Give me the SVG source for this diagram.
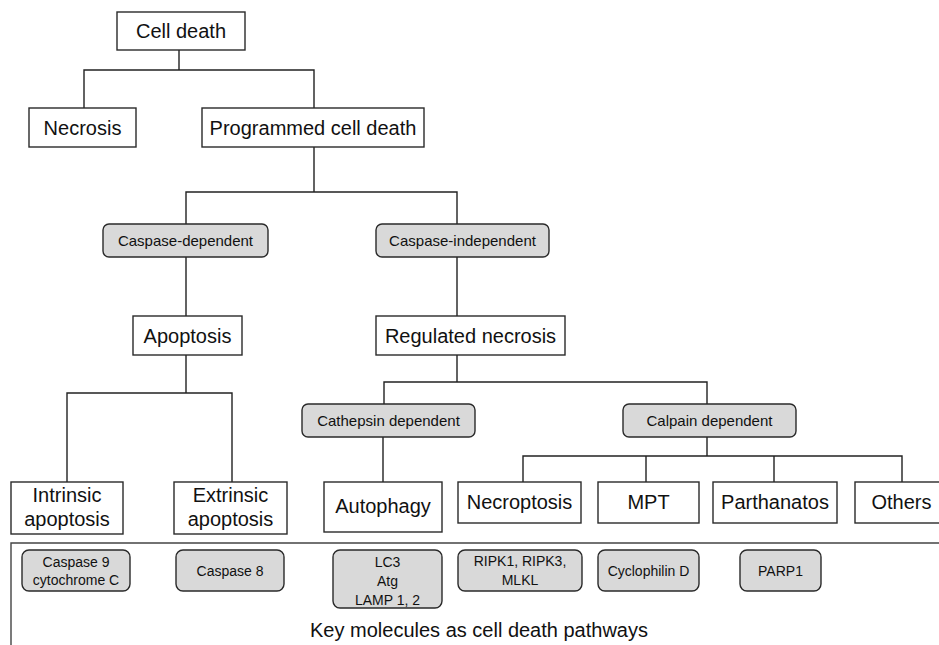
<svg xmlns="http://www.w3.org/2000/svg" width="939" height="645" viewBox="0 0 939 645">
<style>
.box{fill:#fff;stroke:#2a2a2a;stroke-width:1.4}
.gbox{fill:#d9d9d9;stroke:#2a2a2a;stroke-width:1.4}
.t{font-family:"Liberation Sans",Arial,sans-serif;font-size:20px;fill:#111;text-anchor:middle}
.s{font-family:"Liberation Sans",Arial,sans-serif;font-size:15px;fill:#111;text-anchor:middle}
.m{font-family:"Liberation Sans",Arial,sans-serif;font-size:14px;fill:#111;text-anchor:middle}
.c{fill:none;stroke:#222;stroke-width:1.4}
.f{fill:none;stroke:#444;stroke-width:1.4}
</style>
<rect width="939" height="645" fill="#fff"/>
<g id="connectors">
<path class="c" d="M179 50V70M84 108V70H314V108"/>
<path class="c" d="M314 147V192M186 224V192H457V224"/>
<path class="c" d="M186 257V316M457 257V316"/>
<path class="c" d="M186 355V393M67 482V393H232V482"/>
<path class="c" d="M457 355V382M384 404V382H707V404"/>
<path class="c" d="M383 437V482"/>
<path class="c" d="M707 437V456M523 482V456H902V482M646 456V482M774 456V482"/>
<path class="f" d="M11 645V543H939"/>
</g>
<g id="cell-death"><rect class="box" x="117" y="12" width="128" height="38"/><text class="t" x="181" y="38">Cell death</text></g>
<g id="necrosis"><rect class="box" x="29" y="108" width="107" height="39"/><text class="t" x="82.5" y="135">Necrosis</text></g>
<g id="programmed"><rect class="box" x="202" y="108" width="222" height="39"/><text class="t" x="313" y="135">Programmed cell death</text></g>
<g id="caspase-dependent"><rect class="gbox" x="103" y="224" width="165" height="33" rx="6"/><text class="s" x="185.5" y="246">Caspase-dependent</text></g>
<g id="caspase-independent"><rect class="gbox" x="376" y="224" width="173" height="33" rx="6"/><text class="s" x="462.5" y="246">Caspase-independent</text></g>
<g id="apoptosis"><rect class="box" x="133" y="316" width="109" height="39"/><text class="t" x="187.5" y="343">Apoptosis</text></g>
<g id="regulated-necrosis"><rect class="box" x="376" y="316" width="189" height="39"/><text class="t" x="470.5" y="343">Regulated necrosis</text></g>
<g id="cathepsin"><rect class="gbox" x="302" y="404" width="173" height="33" rx="6"/><text class="s" x="388.5" y="426">Cathepsin dependent</text></g>
<g id="calpain"><rect class="gbox" x="623" y="404" width="173" height="33" rx="6"/><text class="s" x="709.5" y="426">Calpain dependent</text></g>
<g id="intrinsic"><rect class="box" x="11" y="482" width="112" height="52"/><text class="t" x="67" y="502">Intrinsic</text><text class="t" x="67" y="526">apoptosis</text></g>
<g id="extrinsic"><rect class="box" x="174" y="482" width="113" height="52"/><text class="t" x="230.5" y="502">Extrinsic</text><text class="t" x="230.5" y="526">apoptosis</text></g>
<g id="autophagy"><rect class="box" x="324" y="482" width="118" height="50"/><text class="t" x="383" y="513">Autophagy</text></g>
<g id="necroptosis"><rect class="box" x="458" y="482" width="123" height="41"/><text class="t" x="519.5" y="509">Necroptosis</text></g>
<g id="mpt"><rect class="box" x="598" y="482" width="101" height="41"/><text class="t" x="648.5" y="509">MPT</text></g>
<g id="parthanatos"><rect class="box" x="713" y="482" width="124" height="41"/><text class="t" x="775" y="509">Parthanatos</text></g>
<g id="others"><rect class="box" x="855" y="482" width="92" height="41"/><text class="t" x="901.5" y="509">Others</text></g>
<g id="mol-caspase9"><rect class="gbox" x="22" y="550" width="108" height="41" rx="7"/><text class="m" x="76" y="567">Caspase 9</text><text class="m" x="76" y="585">cytochrome C</text></g>
<g id="mol-caspase8"><rect class="gbox" x="176" y="550" width="108" height="41" rx="7"/><text class="m" x="230" y="576">Caspase 8</text></g>
<g id="mol-lc3"><rect class="gbox" x="333" y="550" width="109" height="58" rx="7"/><text class="m" x="387.5" y="567">LC3</text><text class="m" x="387.5" y="586">Atg</text><text class="m" x="387.5" y="605">LAMP 1, 2</text></g>
<g id="mol-ripk"><rect class="gbox" x="458" y="550" width="124" height="41" rx="7"/><text class="m" x="520" y="566">RIPK1, RIPK3,</text><text class="m" x="520" y="585">MLKL</text></g>
<g id="mol-cyclophilin"><rect class="gbox" x="598" y="550" width="101" height="41" rx="7"/><text class="m" x="648.5" y="576">Cyclophilin D</text></g>
<g id="mol-parp1"><rect class="gbox" x="740" y="550" width="81" height="41" rx="7"/><text class="m" x="780.5" y="576">PARP1</text></g>
<g id="caption"><text class="t" x="479" y="637">Key molecules as cell death pathways</text></g>
</svg>
